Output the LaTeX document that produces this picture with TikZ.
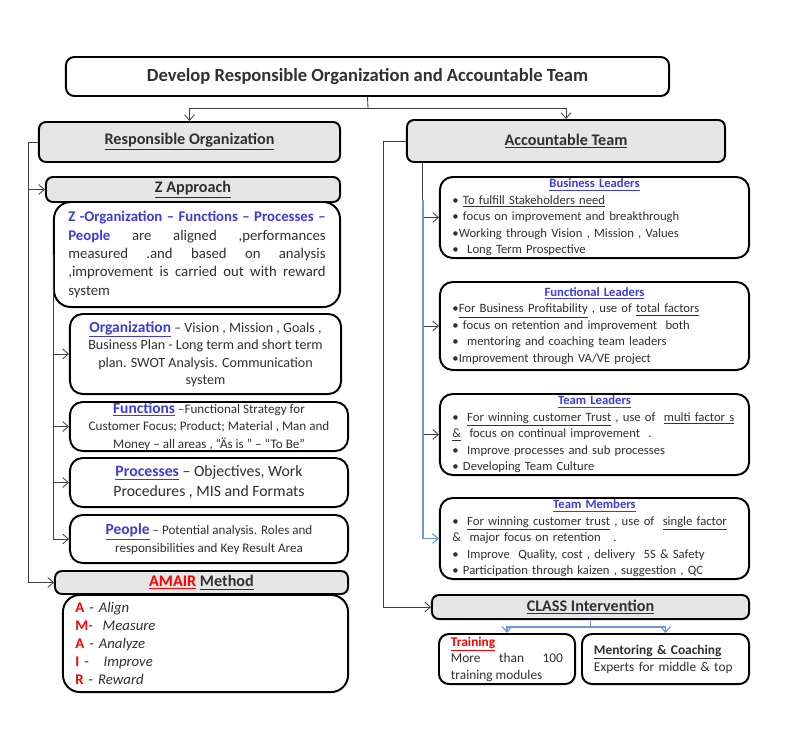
\documentclass[tikz,border=0pt]{standalone}
\usepackage{fontspec}
\setmainfont{Carlito}
\usetikzlibrary{arrows.meta}
\hyphenpenalty=10000
\exhyphenpenalty=10000

\definecolor{boxgray}{HTML}{E6E6E6}
\definecolor{zblue}{HTML}{3C3CDC}
\definecolor{txt}{HTML}{303030}
\definecolor{linkblue}{HTML}{6A9AD8}
\definecolor{conngray}{HTML}{404040}
\newcommand\fs[2]{\fontsize{#1}{#2}\selectfont}

\begin{document}
\begin{tikzpicture}[x=0.025cm, y=-0.025cm,
    headbox/.style={draw, line width=1.4pt, fill=boxgray, rounded corners=5pt, text=txt, inner sep=0pt, font=\bfseries\fs{11.5}{13}},
    textbox/.style={draw, line width=1.4pt, fill=white, rounded corners=9pt, text=txt, inner sep=0pt},
    conn/.style={conngray, line width=0.6pt},
    arr/.style={conn, -{Straight Barb[length=4pt,width=7pt]}},
    bluearr/.style={linkblue, line width=0.8pt, -{Straight Barb[length=4pt,width=7pt]}}]
    \useasboundingbox (0,0) rectangle (800,750);

    % title and the two columns
    \node[textbox, rounded corners=6pt, minimum width=15.075cm, minimum height=0.975cm, font=\bfseries\fs{13.2}{15}] (title) at (367.5,76.5) {Develop Responsible Organization and Accountable Team};
    \node[headbox, minimum width=7.525cm, minimum height=1cm] (resp) at (189.5,142) {\underline{Responsible Organization}};
    \node[headbox, minimum width=7.95cm, minimum height=1.05cm] (acct) at (566,141) {\underline{Accountable Team}};

    % left column
    \node[headbox, minimum width=7.35cm, minimum height=0.625cm] (zapp) at (193,189.5) {\underline{Z Approach}};
    \node[textbox, rounded corners=12pt, minimum width=7.15cm, minimum height=2.625cm, text width=6.43cm, align=justify, font=\fs{10.5}{13}] (ztext) at (197,254.5) {\textcolor{zblue}{\textbf{Z -Organization – Functions – Processes –\linebreak People}} are aligned ,performances\linebreak measured .and based on analysis\linebreak ,improvement is carried out with reward\linebreak system};
    \node[textbox, minimum width=6.775cm, minimum height=2cm, align=center, font=\fs{10}{12.4}] (org) at (205.5,354) {{\fs{11}{12.4}\textcolor{zblue}{\textbf{\underline{Organization}}}} – Vision , Mission , Goals ,\\ Business Plan - Long term and short term\\ plan. SWOT Analysis. Communication\\ system};
    \node[textbox, minimum width=6.95cm, minimum height=1.225cm, align=center, font=\fs{9.3}{12.4}] (func) at (209,426.5) {{\fs{11}{12.4}\textcolor{zblue}{\textbf{\underline{Functions}}}} –Functional Strategy for\\ Customer Focus; Product; Material , Man and\\ Money – all areas , “Äs is ” – “To Be”};
    \node[textbox, minimum width=6.95cm, minimum height=1.225cm, align=center, font=\fs{11.2}{14.2}] (proc) at (209,482.5) {\textcolor{zblue}{\textbf{\underline{Processes}}} – Objectives, Work\\ Procedures , MIS and Formats};
    \node[textbox, minimum width=6.95cm, minimum height=1.2cm, align=center, font=\fs{9.3}{12.4}] (peop) at (209,539) {{\fs{11}{12.4}\textcolor{zblue}{\textbf{\underline{People}}}} – Potential analysis. Roles and\\ responsibilities and Key Result Area};
    \node[headbox, minimum width=7.325cm, minimum height=0.575cm] (amair) at (201.5,582.5) {\textcolor{red}{\underline{AMAIR}} \underline{Method}};
    \node[textbox, rounded corners=12pt, minimum width=7.125cm, minimum height=2.425cm, text width=6.5cm, align=left, font=\fs{10.5}{12.8}] (alist) at (205.5,643.5) {\textcolor{red}{\textbf{A}} - \textit{Align}\\ \textcolor{red}{\textbf{M}}- \ \textit{Measure}\\ \textcolor{red}{\textbf{A}} - \textit{Analyze}\\ \textcolor{red}{\textbf{I}} - \ \ \textit{Improve}\\ \textcolor{red}{\textbf{R}} - \textit{Reward}};

    % right column
    \node[textbox, minimum width=7.725cm, minimum height=2.025cm, text width=7.1cm, align=left, font=\fs{9}{11.7}] (bl) at (594.5,217.5) {\makebox[\hsize]{\textcolor{zblue}{\textbf{\underline{Business Leaders}}}}\\ • \underline{To fulfill Stakeholders need}\\ • focus on improvement and breakthrough\\ •Working through Vision , Mission , Values\\ • \ Long Term Prospective};
    \node[textbox, minimum width=7.725cm, minimum height=2.2cm, text width=7.1cm, align=left, font=\fs{9}{11.7}] (fl) at (594.5,326) {\makebox[\hsize]{\textcolor{zblue}{\textbf{\underline{Functional Leaders}}}}\\ •\underline{For Business Profitability} , use of \underline{total factors}\\ • focus on retention and improvement \ both\\ • \ mentoring and coaching team leaders\\ •Improvement through VA/VE project};
    \node[textbox, minimum width=7.725cm, minimum height=2.025cm, text width=7.1cm, align=left, font=\fs{9}{11.7}] (tl) at (594.5,434.5) {\makebox[\hsize]{\textcolor{zblue}{\textbf{\underline{Team Leaders}}}}\\ • \ \underline{For winning customer Trust} , use of \ \underline{multi factor s}\\ \underline{\&} \ focus on continual improvement \ .\\ • \ Improve processes and sub processes\\ • Developing Team Culture};
    \node[textbox, minimum width=7.725cm, minimum height=2.025cm, text width=7.1cm, align=left, font=\fs{9}{11.7}] (tm) at (594.5,538.5) {\makebox[\hsize]{\textcolor{zblue}{\textbf{\underline{Team Members}}}}\\ • \ \underline{For winning customer trust} , use of \ \underline{single factor}\\ \& \ major focus on retention \ \ .\\ • \ Improve \ Quality, cost , delivery \ 5S \& Safety\\ • Participation through kaizen , suggestion , QC};
    \node[headbox, minimum width=7.925cm, minimum height=0.6cm] (class) at (590.5,607) {\underline{CLASS Intervention}};
    \node[textbox, rounded corners=7pt, minimum width=3.4cm, minimum height=1.25cm, text width=2.8cm, align=justify, font=\fs{9.5}{11.7}] (train) at (507,659) {\textcolor{red}{\textbf{\underline{Training}}}\\ More than 100 training modules};
    \node[textbox, rounded corners=7pt, minimum width=4.175cm, minimum height=1.25cm, text width=3.575cm, align=left, font=\fs{9.5}{12}] (ment) at (665.5,659) {\textbf{\underline{Mentoring \& Coaching}}\\ Experts for middle \& top};

    % connectors
    \coordinate (tsplit) at (368,108);
    \draw[conn] (title.south) -- (tsplit);
    \draw[arr] (tsplit) -| (resp.north);
    \draw[arr] (tsplit) -| (acct.north);
    \draw[arr] (resp.west) -- ++(-10,0) |- (zapp.west);
    \draw[arr] (resp.west) -- ++(-10,0) |- (amair.west);
    \foreach \n in {org,func,proc,peop}
        \draw[arr] (ztext.west) |- (\n.west);
    \draw[arr] (acct.west) -- ++(-23,0) |- (class.west);
    \foreach \n in {bl,fl,tl}
        \draw[arr] ([xshift=0.4cm]acct.south west) |- (\n.west);
    \coordinate (tmsplit) at (423,200);
    \draw[bluearr] (tmsplit) |- (tm.west);
    \coordinate (csplit) at (590.5,627);
    \draw[linkblue, line width=0.8pt] (class.south) -- (csplit);
    \draw[bluearr] (csplit) -| (train.north);
    \draw[bluearr] (csplit) -| (ment.north);
\end{tikzpicture}
\end{document}
